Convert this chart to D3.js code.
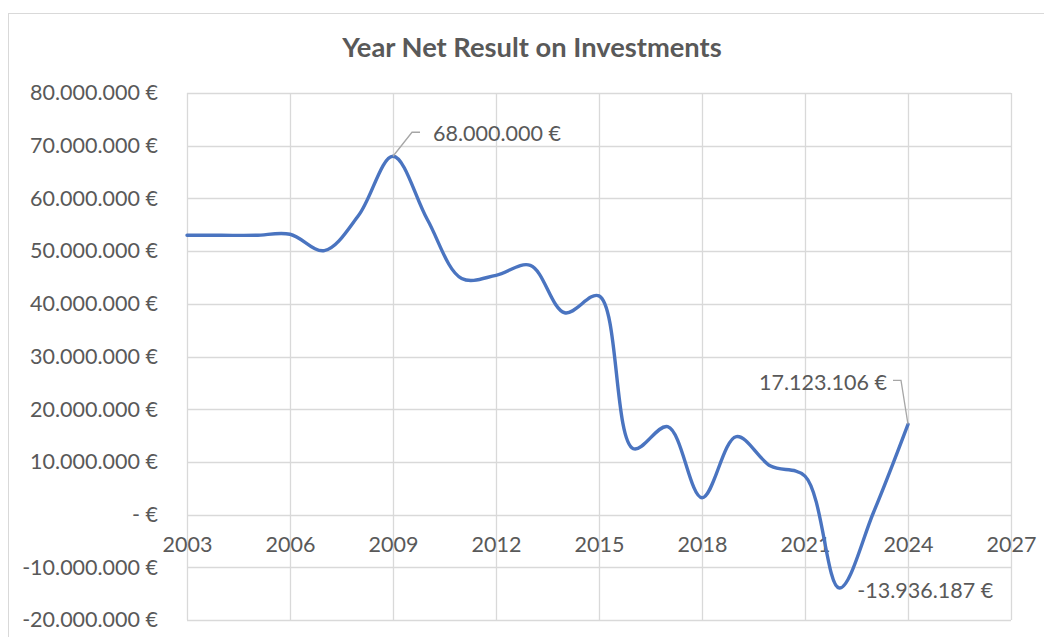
<!DOCTYPE html>
<html>
<head>
<meta charset="utf-8">
<script src="https://cdn.jsdelivr.net/npm/d3@7"></script>
<style>
  html, body { margin: 0; padding: 0; background: #ffffff; }
  svg { display: block; }
  text { font-family: Lato, "Open Sans", sans-serif; fill: #595959; }
</style>
</head>
<body>
<svg id="chart" width="1044" height="637"></svg>
<script>
// ---- data ----
const years = [2003, 2004, 2005, 2006, 2007, 2008, 2009, 2010, 2011, 2012, 2013,
               2014, 2015, 2016, 2017, 2018, 2019, 2020, 2021, 2022, 2023, 2024];
const netResult = [53000000, 53000000, 53000000, 53200000, 50100000, 56800000, 68000000,
                   56000000, 44800000, 45400000, 47300000, 38300000, 41500000, 12500000,
                   16700000, 3200000, 14800000, 9200000, 7300000, -13936187, 500000, 17123106];
const xTicks = [2003, 2006, 2009, 2012, 2015, 2018, 2021, 2024, 2027];
const yTicks = [80000000, 70000000, 60000000, 50000000, 40000000, 30000000, 20000000,
                10000000, 0, -10000000, -20000000];
const title = "Year Net Result on Investments";

// ---- layout ----
const svg = d3.select("#chart");
const plot = { left: 187, right: 1011, top: 93, bottom: 620 };
const FS = "21.5px";

const x = d3.scaleLinear().domain([2003, 2027]).range([plot.left, plot.right]);
const y = d3.scaleLinear().domain([-20000000, 80000000]).range([plot.bottom, plot.top]);

function euro(v) {
  if (v === 0) return "- \u20AC";
  const s = d3.format(",.0f")(Math.abs(v)).replace(/,/g, ".");
  return (v < 0 ? "-" : "") + s + " \u20AC";
}

// outer chart frame
svg.append("rect")
  .attr("x", 8.5).attr("y", 13.5).attr("width", 1100).attr("height", 700)
  .attr("fill", "none").attr("stroke", "#d9d9d9").attr("stroke-width", 1);

// title
svg.append("text")
  .attr("x", 532).attr("y", 57)
  .attr("text-anchor", "middle")
  .style("font-size", "27.3px").style("font-weight", "bold")
  .text(title);

// gridlines
const grid = svg.append("g");
grid.selectAll("line.h").data(yTicks).join("line")
  .attr("class", "h")
  .attr("x1", plot.left).attr("x2", plot.right)
  .attr("y1", d => Math.round(y(d)) + 0.5).attr("y2", d => Math.round(y(d)) + 0.5)
  .attr("stroke", "#d9d9d9").attr("stroke-width", 1.3);
grid.selectAll("line.v").data(xTicks).join("line")
  .attr("class", "v")
  .attr("x1", d => Math.round(x(d)) + 0.5).attr("x2", d => Math.round(x(d)) + 0.5)
  .attr("y1", plot.top).attr("y2", plot.bottom)
  .attr("stroke", "#d9d9d9").attr("stroke-width", 1.3);

// y axis labels
const yAxis = d3.axisLeft(y).tickValues(yTicks).tickFormat(euro).tickSize(0).tickPadding(0);
const gy = svg.append("g").attr("transform", `translate(${plot.left - 29},0)`).call(yAxis);
gy.select(".domain").remove();
gy.selectAll("text").style("font-size", FS).attr("fill", "#595959")
  .style("font-family", "Lato, 'Open Sans', sans-serif");

// x axis labels (placed below the zero line)
const xAxis = d3.axisBottom(x).tickValues(xTicks).tickFormat(d3.format("d")).tickSize(0).tickPadding(0);
const gx = svg.append("g").attr("transform", `translate(0,${y(0) + 22})`).call(xAxis);
gx.select(".domain").remove();
gx.selectAll("text").style("font-size", FS).attr("fill", "#595959")
  .style("font-family", "Lato, 'Open Sans', sans-serif");

// line
const pts = years.map((yr, i) => [yr, netResult[i]]);
const line = d3.line()
  .x(d => x(d[0])).y(d => y(d[1]))
  .curve(d3.curveCatmullRom.alpha(0.5));
svg.append("path")
  .datum(pts)
  .attr("d", line)
  .attr("fill", "none")
  .attr("stroke", "#4a74c0")
  .attr("stroke-width", 3.4)
  .attr("stroke-linejoin", "round")
  .attr("stroke-linecap", "round");

// data labels
const lbl = svg.append("g");
function valueAt(yr) { return netResult[years.indexOf(yr)]; }

// 2009 label with leader
{
  const v = valueAt(2009), px = x(2009), py = y(v);
  lbl.append("path")
    .attr("d", `M${px},${py} L${px + 19},${py - 24} L${px + 27},${py - 24}`)
    .attr("fill", "none").attr("stroke", "#a6a6a6").attr("stroke-width", 1.3);
  lbl.append("text")
    .attr("x", px + 40).attr("y", py - 23).attr("dy", "0.35em")
    .style("font-size", FS).text(euro(v));
}
// 2022 label
{
  const v = valueAt(2022), px = x(2022), py = y(v);
  lbl.append("text")
    .attr("x", px + 18).attr("y", py + 2).attr("dy", "0.35em")
    .style("font-size", FS).text(euro(v));
}
// 2024 label with leader
{
  const v = valueAt(2024), px = x(2024), py = y(v);
  lbl.append("path")
    .attr("d", `M${px},${py} L${px - 7},${py - 44} L${px - 15},${py - 44}`)
    .attr("fill", "none").attr("stroke", "#a6a6a6").attr("stroke-width", 1.3);
  lbl.append("text")
    .attr("x", px - 21).attr("y", py - 42).attr("dy", "0.35em")
    .attr("text-anchor", "end")
    .style("font-size", FS).text(euro(v));
}
</script>
</body>
</html>
